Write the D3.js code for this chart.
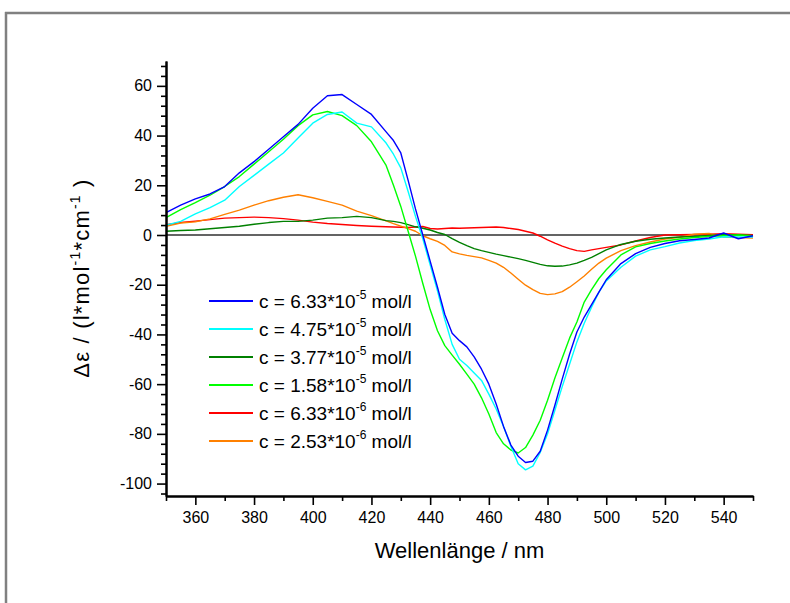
<!DOCTYPE html>
<html><head><meta charset="utf-8">
<script src="https://cdn.jsdelivr.net/npm/d3@7"></script>
<style>
body{margin:0;background:#fff;}
svg{display:block;font-family:"Liberation Sans",Arial,sans-serif;}
</style></head>
<body><svg id="c" width="790" height="603"></svg>
<script>
const wavelengths = [350,355,360,365,370,375,380,385,390,395,400,405,410,415,420,425,
 427.5,430,432.5,435,437.5,440,442.5,445,447.5,450,452.5,455,457.5,460,462.5,465,467.5,470,472.5,475,477.5,480,482.5,485,487.5,490,492.5,495,497.5,500,
 505,510,515,520,525,530,535,540,545,550];

const c633e5 = [9,12,14.5,16.5,19.5,25,29.5,34.5,39.5,44.5,51,56,56.5,52.5,48.5,41.5,
 38,33,22,10.5,0,-10.5,-21,-32,-39.5,-42.5,-45,-49,-54,-60,-68,-77,-84.5,-89,-91.5,-91,-87,-78.5,-68.5,-58,-48,-39,-33,-28,-23,-18,
 -11.5,-7.5,-5,-3.4,-2.3,-1.8,-1.2,0.8,-1.5,-0.3];
const c475e5 = [4,5.5,8.5,11,14,19.5,24,28.5,33,39,45,48.5,49.5,45,43.5,37,
 32.5,27,17.5,7.5,-1.5,-12,-22.5,-34,-44,-50,-52.5,-55.5,-58.5,-64,-70,-77,-85,-92,-94.5,-93,-87.5,-80,-70.5,-61,-52,-43,-35.5,-29,-23,-18.5,
 -13,-8.5,-6,-4.7,-3.2,-2.2,-1.6,-0.7,-0.8,-0.8];
const c377e5 = [1.5,1.8,2,2.5,3,3.5,4.3,5,5.5,5.5,6,6.8,7,7.5,7,5.8,
 5.5,5,4.2,3.3,2.7,2,1,0.2,-1.5,-3,-4.3,-5.5,-6.3,-7,-7.7,-8.3,-8.9,-9.5,-10.2,-11,-11.8,-12.4,-12.6,-12.5,-12,-11.3,-10.2,-9,-7.5,-6,
 -3.8,-2.5,-1.7,-1.2,-0.8,-0.6,-0.2,0.1,0,-0.3];
const c158e5 = [7,10.2,13,16,19.5,23.5,28.5,33.5,38.5,44,48.3,49.7,48,44,37.5,28,
 20,11.5,1.5,-8.5,-19.5,-30,-38.5,-44.5,-48.3,-52,-56,-60,-65.5,-72,-79.5,-84,-86.5,-87.7,-85.5,-80.5,-74.5,-66.5,-57.5,-49.5,-41.5,-35,-27,-22,-17.5,-14,
 -8,-4.8,-3.4,-2.4,-1.6,-1,-0.6,-0.2,0,-0.3];
const c633e6 = [4.1,5,5.6,6.2,6.8,7,7.2,7,6.6,6,5.2,4.6,4.2,3.8,3.5,3.3,
 3.2,3.1,3,3.2,3.4,2.6,2.4,2.6,2.8,2.7,2.8,2.9,3,3.1,3.2,3,2.6,2.2,1.5,0.8,-0.5,-2,-3.3,-4.5,-5.5,-6.3,-6.6,-6,-5.5,-5,
 -4,-2.4,-1,0,0.1,0.2,0.3,0.5,0.3,0.1];
const c253e6 = [3.5,4.8,5.3,6.5,8.3,10,12,13.8,15.2,16.2,15,13.5,12,9.6,7.8,5.7,
 4.6,3.6,2.6,1.5,-0.3,-1.5,-2.6,-4.2,-6.8,-7.6,-8.2,-8.7,-9.2,-10.2,-11.3,-13,-15.3,-17.8,-20.2,-22,-23.5,-24,-23.7,-22.8,-21,-18.8,-16.5,-13.8,-11.3,-9.3,
 -6.3,-4.3,-2.8,-1.6,-0.9,0.3,0.6,-0.8,-1,-1.2];

const seriesValues = [c633e5, c475e5, c377e5, c158e5, c633e6, c253e6];
const mantissas = ["6.33","4.75","3.77","1.58","6.33","2.53"];
const exponents = ["-5","-5","-5","-5","-6","-6"];
const colors = ["#0000FF","#00FFFF","#008000","#00FF00","#FF0000","#FF8000"];

const xMajor = [360,380,400,420,440,460,480,500,520,540];
const xMinor = [350,370,390,410,430,450,470,490,510,530,550];
const yMajor = [-100,-80,-60,-40,-20,0,20,40,60];

const svg = d3.select("#c");

// outer frame
svg.append("line").attr("x1",5).attr("x2",790).attr("y1",13).attr("y2",13).attr("stroke","#808080").attr("stroke-width",2.5);
svg.append("line").attr("x1",6).attr("x2",6).attr("y1",12).attr("y2",603).attr("stroke","#808080").attr("stroke-width",2.5);

const x = d3.scaleLinear().domain([350,550]).range([166,753]);
const y = d3.scaleLinear().domain([-105,70]).range([496,61]);

const yMinor = d3.range(-104,70,4).filter(v=>v%20!==0);

// zero line
svg.append("line").attr("x1",x(350)).attr("x2",x(550)).attr("y1",y(0)).attr("y2",y(0))
  .attr("stroke","#303030").attr("stroke-width",1.5);

// curves
const line = d3.line().x((d,i)=>x(wavelengths[i])).y(d=>y(d));
const order = [4,5,2,3,1,0];
order.forEach(k=>{
  svg.append("path").datum(seriesValues[k]).attr("d",line)
    .attr("fill","none").attr("stroke",colors[k]).attr("stroke-width",1.4).attr("stroke-linejoin","round");
});

// axes
const fmt = d => String(d);
function styleAxis(g){
  g.select(".domain").attr("stroke","#000").attr("stroke-width",2);
  g.selectAll(".tick line").attr("stroke","#000").attr("stroke-width",1.6);
  g.selectAll(".tick text").attr("font-size",16).attr("fill","#000").attr("font-family","Liberation Sans, Arial, sans-serif");
}
const gx = svg.append("g").attr("transform",`translate(0,${y(-105)})`)
  .call(d3.axisBottom(x).tickValues(xMajor).tickSize(9).tickSizeOuter(0).tickPadding(7).tickFormat(fmt));
styleAxis(gx);
const gxm = svg.append("g").attr("transform",`translate(0,${y(-105)})`)
  .call(d3.axisBottom(x).tickValues(xMinor).tickSize(5).tickSizeOuter(0).tickFormat(""));
styleAxis(gxm);
const gy = svg.append("g").attr("transform",`translate(${x(350)},0)`)
  .call(d3.axisLeft(y).tickValues(yMajor).tickSize(9).tickSizeOuter(0).tickPadding(5).tickFormat(fmt));
styleAxis(gy);
const gym = svg.append("g").attr("transform",`translate(${x(350)},0)`)
  .call(d3.axisLeft(y).tickValues(yMinor).tickSize(5).tickSizeOuter(0).tickFormat(""));
styleAxis(gym);

// axis titles
svg.append("text").attr("x",(x(350)+x(550))/2).attr("y",558).attr("text-anchor","middle")
  .attr("font-size",22).attr("fill","#000").text("Wellenlänge / nm");

const yt = svg.append("text").attr("transform",`translate(89,278) rotate(-90)`)
  .attr("text-anchor","middle").attr("font-size",22).attr("letter-spacing",1.2).attr("fill","#000");
yt.append("tspan").text("Δε / (l*mol");
yt.append("tspan").attr("font-size",14).attr("dy",-9).text("-1");
yt.append("tspan").attr("dy",9).text("*cm");
yt.append("tspan").attr("font-size",14).attr("dy",-9).text("-1");
yt.append("tspan").attr("dy",9).text(" )");

// legend
const leg = svg.append("g");
mantissas.forEach((m,i)=>{
  const yy = 301 + i*28;
  leg.append("line").attr("x1",209).attr("x2",253).attr("y1",yy).attr("y2",yy)
    .attr("stroke",colors[i]).attr("stroke-width",2);
  const t = leg.append("text").attr("x",259).attr("y",yy+7).attr("font-size",19).attr("fill","#000");
  t.append("tspan").text(`c = ${m}*10`);
  t.append("tspan").attr("font-size",12).attr("dy",-9).text(exponents[i]);
  t.append("tspan").attr("dy",9).text(" mol/l");
});
</script></body></html>
